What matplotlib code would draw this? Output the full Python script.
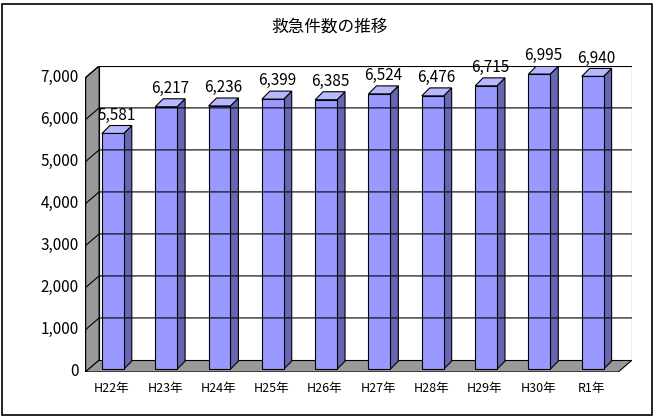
import matplotlib.pyplot as plt
from matplotlib.patches import Polygon, Rectangle

plt.rcParams['font.family'] = ['Noto Sans CJK JP', 'DejaVu Sans']

categories = ["H22年", "H23年", "H24年", "H25年", "H26年", "H27年", "H28年", "H29年", "H30年", "R1年"]
values = [5581, 6217, 6236, 6399, 6385, 6524, 6476, 6715, 6995, 6940]
yticks = [0, 1000, 2000, 3000, 4000, 5000, 6000, 7000]

D_X, D_Y = 0.263, 286      # wall depth offset
B_X, B_Y = 0.15, 190       # bar depth offset
BW = 0.41

fig = plt.figure(figsize=(6.6, 4.17), dpi=100)
fig.patches.append(Rectangle((0.003, 0.005), 0.985, 0.985, transform=fig.transFigure,
                             fill=False, ec="black", lw=1.2))
ax = fig.add_axes([0.129, 0.108, 0.829, 0.734])
ax.set_xlim(-0.5 - D_X, 9.5)
ax.set_ylim(0, 7286)
ax.axis("off")

top = yticks[-1]
# floor, left wall, back wall
ax.add_patch(Polygon([(-0.5 - D_X, 0), (9.5 - D_X, 0), (9.5, D_Y), (-0.5, D_Y)],
                     fc="#999999", ec="black", lw=0.8))
ax.add_patch(Polygon([(-0.5 - D_X, 0), (-0.5, D_Y), (-0.5, top + D_Y), (-0.5 - D_X, top)],
                     fc="#999999", ec="black", lw=0.8))
ax.add_patch(Polygon([(-0.5, D_Y), (9.5, D_Y), (9.5, top + D_Y), (-0.5, top + D_Y)],
                     fc="white", ec="black", lw=0.8))
for v in yticks[1:]:
    ax.plot([-0.5 - D_X, -0.5, 9.5], [v, v + D_Y, v + D_Y], color="black", lw=0.8)
ax.plot([-0.5 - D_X, -0.5 - D_X], [0, top], color="black", lw=1)
for v in yticks:
    ax.plot([-0.5 - D_X - 0.08, -0.5 - D_X], [v, v], color="black", lw=1)
    ax.text(-0.5 - D_X - 0.12, v, f"{v:,}", ha="right", va="center", fontsize=11)

shift = D_Y - B_Y  # bars sit mid-depth
for i, (c, v) in enumerate(zip(categories, values)):
    x0 = i - D_X - BW / 2 - 0.03 + 0.05
    x1 = x0 + BW
    y0 = shift / 2 + 20
    yt = v + shift
    ax.add_patch(Polygon([(x1, y0), (x1 + B_X, y0 + B_Y), (x1 + B_X, yt + B_Y), (x1, yt)],
                         fc="#6666B3", ec="black", lw=0.8))
    ax.add_patch(Polygon([(x0, yt), (x1, yt), (x1 + B_X, yt + B_Y), (x0 + B_X, yt + B_Y)],
                         fc="#B8B8FF", ec="black", lw=0.8))
    ax.add_patch(Rectangle((x0, y0), BW, yt - y0, fc="#9999FF", ec="black", lw=0.8))
    ax.text((x0 + x1 + B_X) / 2, yt + B_Y + 40, f"{v:,}", ha="center", va="bottom", fontsize=11)
    ax.text(i - D_X, -250, c, ha="center", va="top", fontsize=9)

fig.text(0.5, 0.935, "救急件数の推移", ha="center", va="center", fontsize=12)
fig.savefig("out.png", dpi=100)
